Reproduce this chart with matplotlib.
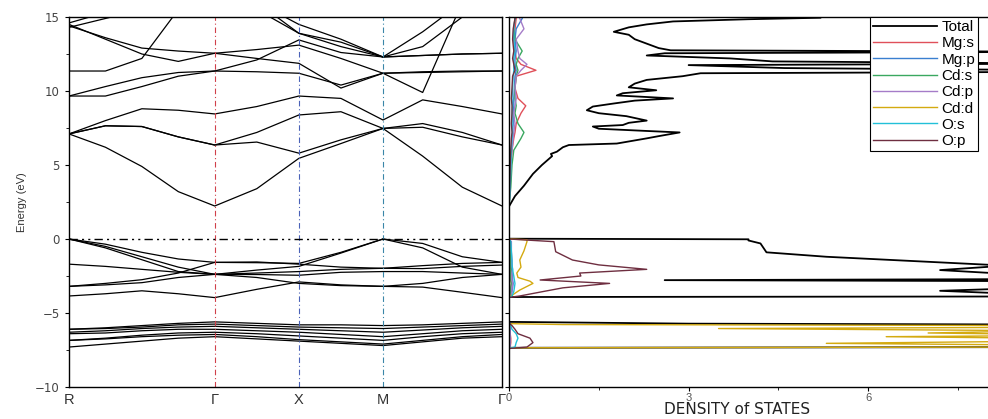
import numpy as np
import matplotlib
matplotlib.use("Agg")
import matplotlib.pyplot as plt

plt.rcParams['font.family'] = ['Liberation Sans', 'DejaVu Sans']

# high-symmetry path R - G - X - M - G (segment lengths in units of 2pi/a)
k_labels = ["R", "\u0393", "X", "M", "\u0393"]
seg_len = [np.sqrt(3), 1.0, 1.0, np.sqrt(2)]
seg_div = [4, 2, 2, 3]

# band energies (eV) at the sampled k points along the path
conduction_bands = [
    [7.1, 6.2, 4.9, 3.2, 2.23, 3.4, 5.45, 6.45, 7.47, 5.6, 3.5, 2.23],
    [7.1, 7.65, 7.6, 6.9, 6.35, 6.55, 5.8, 6.7, 7.47, 7.8, 7.2, 6.35],
    [7.1, 7.65, 7.6, 6.9, 6.35, 7.2, 8.38, 8.6, 7.47, 7.55, 6.9, 6.35],
    [7.1, 8.0, 8.8, 8.7, 8.45, 8.95, 9.66, 9.5, 8.04, 9.4, 8.95, 8.45],
    [9.66, 10.3, 10.9, 11.25, 11.35, 11.3, 11.2, 10.4, 11.2, 11.25, 11.3, 11.35],
    [9.66, 9.66, 10.3, 11.0, 11.35, 12.1, 13.45, 12.6, 12.3, 12.4, 12.5, 12.55],
    [14.4, 13.6, 12.9, 12.7, 12.55, 12.8, 13.1, 12.2, 11.2, 9.9, 16.0, 18.0],
    [14.5, 13.5, 12.5, 12.0, 12.55, 12.2, 11.87, 10.2, 11.2, 11.3, 11.35, 11.35],
    [11.35, 11.35, 12.2, 15.5, 17.0, 15.5, 13.9, 13.0, 12.3, 12.4, 12.5, 12.55],
    [14.6, 15.3, 16.0, 17.0, 17.0, 16.0, 14.5, 13.5, 12.3, 14.0, 16.0, 17.0],
    [14.3, 14.9, 15.5, 16.0, 17.0, 16.0, 13.9, 13.3, 12.3, 13.0, 15.0, 17.0],
]
valence_bands = [
    [0.0, -0.35, -0.9, -1.35, -1.58, -1.6, -1.65, -0.9, 0.0, -0.3, -1.2, -1.58],
    [0.0, -0.5, -1.2, -1.9, -2.39, -2.1, -1.85, -0.95, 0.0, -0.6, -1.9, -2.39],
    [0.0, -0.6, -1.4, -2.2, -2.39, -2.3, -2.2, -2.05, -1.98, -2.0, -1.85, -1.76],
    [-1.7, -1.85, -2.05, -2.25, -2.39, -2.4, -2.45, -2.25, -2.2, -2.2, -2.3, -2.39],
    [-3.2, -3.0, -2.75, -2.3, -1.58, -1.55, -1.7, -1.9, -1.98, -1.8, -1.65, -1.58],
    [-3.85, -3.7, -3.5, -3.7, -3.96, -3.4, -2.9, -3.1, -3.2, -3.25, -3.6, -3.96],
    [-3.2, -3.1, -2.95, -2.6, -2.39, -2.6, -3.0, -3.15, -3.2, -3.0, -2.6, -2.39],
]
d_bands = [
    [-6.1, -6.0, -5.85, -5.7, -5.6, -5.7, -5.8, -5.8, -5.85, -5.8, -5.7, -5.6],
    [-6.1, -6.05, -5.95, -5.8, -5.75, -5.85, -5.95, -6.0, -6.05, -5.95, -5.85, -5.75],
    [-6.3, -6.2, -6.05, -5.95, -5.9, -6.0, -6.1, -6.2, -6.3, -6.15, -6.0, -5.9],
    [-6.4, -6.35, -6.2, -6.1, -6.1, -6.2, -6.3, -6.45, -6.6, -6.4, -6.2, -6.1],
    [-6.85, -6.7, -6.5, -6.35, -6.3, -6.4, -6.55, -6.7, -6.85, -6.6, -6.4, -6.3],
    [-6.85, -6.75, -6.6, -6.5, -6.45, -6.6, -6.8, -6.95, -7.1, -6.85, -6.6, -6.45],
    [-7.3, -7.1, -6.9, -6.7, -6.6, -6.75, -6.9, -7.05, -7.2, -6.95, -6.7, -6.6],
]

# total DOS: semicore d region, valence band, conduction band
tot_core_e = [-10.0, -7.35, -7.3, -7.0, -6.6, -6.2, -5.9, -5.78, -5.72, -5.6]
tot_core_v = [0.0, 0.0, 10.0, 12.0, 11.0, 13.0, 12.0, 9.0, 3.0, 0.0]
tot_vb_e = [-3.92, -3.88, -3.5, -3.2, -2.85, -2.78, -2.7, -2.4, -2.1, -1.8,
            -1.5, -1.3, -1.2, -0.9, -0.3, -0.1, -0.02, 0.02]
tot_vb_v = [0.0, 9.5, 7.2, 9.5, 9.0, 2.6, 9.5, 8.5, 7.2, 8.3,
            6.8, 5.8, 5.3, 4.3, 4.2, 4.0, 4.0, 0.0]
tot_cb_e = [2.2, 2.9, 3.6, 4.4, 5.0, 5.6, 5.75, 5.9, 6.2, 6.35,
            6.45, 6.8, 6.95, 7.2, 7.3, 7.45, 7.6, 7.7, 7.85, 8.0,
            8.3, 8.5, 8.7, 8.95, 9.15, 9.35, 9.5, 9.7, 9.85, 10.05,
            10.25, 10.5, 10.75, 11.0, 11.2, 11.3, 11.4, 11.55, 11.75, 11.85,
            12.0, 12.2, 12.4, 12.55, 12.65, 12.75, 12.9, 13.2, 13.5, 13.8,
            14.0, 14.3, 14.5, 14.7, 14.85, 14.95]
tot_cb_v = [0.0, 0.1, 0.25, 0.4, 0.55, 0.72, 0.7, 0.8, 0.9, 1.0,
            1.8, 2.3, 2.5, 2.85, 2.3, 1.5, 1.4, 1.9, 2.0, 2.3,
            1.96, 1.5, 1.3, 1.4, 1.74, 2.1, 2.74, 1.8, 1.9, 2.46,
            2.0, 2.1, 2.3, 2.9, 3.2, 9.5, 9.5, 4.6, 3.0, 9.5,
            4.4, 3.7, 2.3, 2.6, 9.5, 2.7, 2.5, 2.3, 2.1, 2.0,
            1.75, 2.0, 2.3, 2.74, 4.0, 5.2]

# partial DOS on a common energy grid
pdos_e = [-7.4, -7.3, -7.0, -6.7, -6.4, -6.1, -5.85, -5.75, -5.65, -3.95,
          -3.85, -3.55, -3.3, -3.0, -2.77, -2.5, -2.3, -2.05, -1.75, -1.42,
          -0.86, -0.18, 0.0, 2.2, 3.5, 5.0, 6.0, 6.8, 7.2, 7.8,
          8.5, 9.0, 9.5, 10.2, 11.0, 11.4, 11.8, 12.2, 12.7, 13.5,
          14.2, 14.9]
mg_s = [0, 0.02, 0.03, 0.03, 0.02, 0.02, 0.02, 0.01, 0, 0,
        0.02, 0.03, 0.03, 0.04, 0.03, 0.03, 0.03, 0.04, 0.03, 0.03,
        0.02, 0.02, 0, 0, 0.02, 0.03, 0.05, 0.08, 0.1, 0.12,
        0.2, 0.28, 0.15, 0.1, 0.12, 0.45, 0.2, 0.12, 0.1, 0.08,
        0.1, 0.12]
mg_p = [0, 0.02, 0.02, 0.02, 0.02, 0.02, 0.02, 0.01, 0, 0,
        0.03, 0.05, 0.06, 0.07, 0.06, 0.06, 0.05, 0.05, 0.05, 0.04,
        0.03, 0.03, 0, 0, 0.02, 0.03, 0.04, 0.05, 0.06, 0.07,
        0.07, 0.08, 0.08, 0.09, 0.1, 0.12, 0.1, 0.1, 0.12, 0.1,
        0.12, 0.22]
cd_s = [0, 0.01, 0.01, 0.01, 0.01, 0.01, 0.01, 0.01, 0, 0,
        0.02, 0.03, 0.03, 0.04, 0.03, 0.03, 0.03, 0.03, 0.02, 0.02,
        0.02, 0.02, 0, 0, 0.03, 0.05, 0.08, 0.2, 0.25, 0.15,
        0.1, 0.12, 0.1, 0.1, 0.12, 0.15, 0.12, 0.15, 0.22, 0.1,
        0.08, 0.1]
cd_p = [0, 0.02, 0.02, 0.02, 0.02, 0.02, 0.02, 0.01, 0, 0,
        0.03, 0.05, 0.05, 0.06, 0.05, 0.05, 0.05, 0.06, 0.05, 0.05,
        0.04, 0.04, 0, 0, 0.02, 0.03, 0.05, 0.07, 0.08, 0.1,
        0.08, 0.1, 0.12, 0.1, 0.12, 0.2, 0.3, 0.18, 0.15, 0.12,
        0.25, 0.18]
o_s = [0, 0.1, 0.12, 0.15, 0.12, 0.05, 0.03, 0.02, 0, 0,
       0.05, 0.08, 0.09, 0.1, 0.09, 0.08, 0.07, 0.06, 0.05, 0.05,
       0.04, 0.03, 0, 0, 0.02, 0.03, 0.04, 0.05, 0.06, 0.05,
       0.05, 0.06, 0.05, 0.06, 0.07, 0.08, 0.08, 0.08, 0.1, 0.08,
       0.08, 0.1]
o_p = [0, 0.3, 0.4, 0.35, 0.15, 0.1, 0.05, 0.02, 0, 0,
       0.18, 0.57, 0.9, 1.68, 0.52, 1.2, 1.18, 2.3, 1.5, 1.06,
       0.78, 0.75, 0, 0, 0.01, 0.02, 0.03, 0.04, 0.05, 0.04,
       0.05, 0.05, 0.04, 0.05, 0.06, 0.1, 0.08, 0.06, 0.08, 0.06,
       0.07, 0.1]
# Cd d states dominate the semicore region, so they get their own grid
cdd_e = [-10.0, -7.35, -7.3, -7.2, -7.05, -6.9, -6.75, -6.6, -6.5, -6.35,
         -6.2, -6.05, -5.95, -5.85, -5.78, -5.72, -3.9, -3.8, -3.45, -3.0,
         -2.85, -2.6, -2.3, -1.9, -1.42, -0.8, -0.18, -0.05, 0.0, 15.0]
cdd_v = [0, 0, 9.5, 10, 5.3, 9, 10, 6.3, 10, 7.0,
         9, 3.5, 10, 9, 0.9, 0, 0, 0.05, 0.18, 0.4,
         0.35, 0.15, 0.13, 0.2, 0.18, 0.25, 0.3, 0.3, 0, 0]

# build k axis
nodes = np.concatenate([[0], np.cumsum(seg_len)])
kpts = [0.0]
for i, n in enumerate(seg_div):
    kpts += list(np.linspace(nodes[i], nodes[i + 1], n + 1)[1:])
kpts = np.array(kpts)

fig = plt.figure(figsize=(9.88, 4.19), dpi=100)
ax1 = fig.add_axes([69 / 988, 32 / 419, 433 / 988, 370 / 419])
ax2 = fig.add_axes([509 / 988, 32 / 419, 479 / 988, 370 / 419])

for band in conduction_bands + valence_bands + d_bands:
    ax1.plot(kpts, band, color="black", lw=0.9)

sym_colors = [None, "#d0404a", "#4a62b8", "#3a86a8", None]
for k, c in zip(nodes, sym_colors):
    if c:
        ax1.axvline(k, color=c, lw=0.8, linestyle=(0, (5, 2.5, 1, 2.5)))
ax1.axhline(0, color="black", lw=1.0, linestyle=(0, (6, 3, 1.5, 3, 1.5, 3)))

ax1.set_xlim(nodes[0], nodes[-1])
ax1.set_ylim(-10, 15)
ax1.set_xticks(nodes)
ax1.set_xticklabels(k_labels, fontsize=10.5, color="#333333")
ax1.set_yticks([-10, -5, 0, 5, 10, 15])
ax1.set_yticks(np.arange(-7.5, 15, 5), minor=True)
ax1.tick_params(axis="y", labelsize=8.5, labelcolor="#444444", length=3, direction="out")
ax1.tick_params(axis="y", which="minor", length=2)
for t in ax1.get_yticklabels():
    t.set_family("DejaVu Sans")
ax1.tick_params(axis="x", length=0, pad=4)
ax1.set_ylabel("Energy (eV)", fontsize=8, color="#333333", labelpad=6)

# density of states
tot_e = tot_core_e + tot_vb_e + tot_cb_e
tot_v = tot_core_v + tot_vb_v + tot_cb_v
ax2.plot(tot_v, tot_e, color="black", lw=1.3, label="Total")
ax2.plot(mg_s, pdos_e, color="#e0505a", lw=1.0, label="Mg:s")
ax2.plot(mg_p, pdos_e, color="#3a7fd0", lw=1.0, label="Mg:p")
ax2.plot(cd_s, pdos_e, color="#3aa860", lw=1.0, label="Cd:s")
ax2.plot(cd_p, pdos_e, color="#a57cc8", lw=1.0, label="Cd:p")
ax2.plot(cdd_v, cdd_e, color="#d4aa10", lw=1.0, label="Cd:d")
ax2.plot(o_s, pdos_e, color="#22c0d8", lw=1.0, label="O:s")
ax2.plot(o_p, pdos_e, color="#6e2e40", lw=1.0, label="O:p")

ax2.set_xlim(0, 8)
ax2.set_ylim(-10, 15)
ax2.set_xticks([0, 3, 6])
ax2.set_xticks([1.5, 4.5, 7.5], minor=True)
ax2.tick_params(axis="x", labelsize=8, labelcolor="#555555", length=3, pad=1)
ax2.tick_params(axis="x", which="minor", length=2)
ax2.set_yticks([-10, -5, 0, 5, 10, 15])
ax2.tick_params(axis="y", labelleft=False, length=3)
ax2.spines["right"].set_visible(False)
ax2.set_xlabel("DENSITY of STATES", fontsize=11, color="#222222",
               family="DejaVu Sans")
ax2.xaxis.set_label_coords(0.476, -0.041)

for ax in (ax1, ax2):
    for s in ax.spines.values():
        s.set_linewidth(1.0)

leg = ax2.legend(loc="upper right", bbox_to_anchor=(0.98, 1.0), borderaxespad=0,
                 fontsize=11, handlelength=4.2, handletextpad=0.3,
                 labelspacing=0.15, borderpad=0.2, fancybox=False,
                 framealpha=1, edgecolor="black")
leg.get_frame().set_linewidth(0.8)

fig.savefig("out.png", dpi=100)
